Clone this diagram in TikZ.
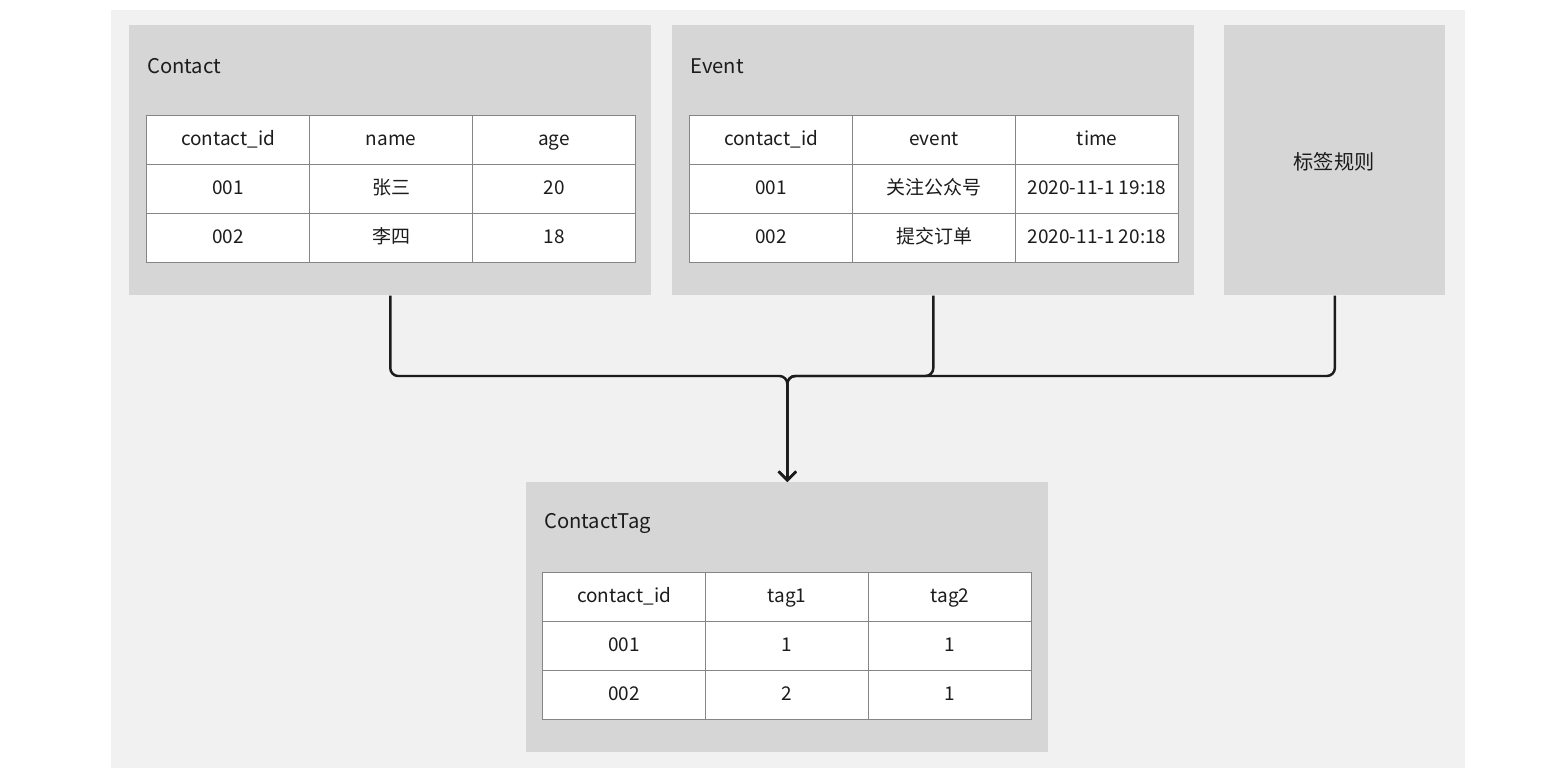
\documentclass[tikz,border=0pt]{standalone}
\usepackage{fontspec}
\setmainfont{Noto Sans CJK SC}
\usetikzlibrary{positioning,calc,matrix,arrows.meta}

\definecolor{bggray}{HTML}{F1F1F1}
\definecolor{panelgray}{HTML}{D6D6D6}
\definecolor{cellline}{HTML}{858585}
\definecolor{inkdark}{HTML}{1C1C1C}

\begin{document}
\begin{tikzpicture}[
  x=0.02cm, y=-0.02cm,
  panel/.style={
    rectangle, fill=panelgray, anchor=north west,
    minimum width=10.44cm, minimum height=5.4cm, inner sep=0pt
  },
  title/.style={
    anchor=west, inner sep=0pt, font=\fontsize{11.5}{14}\selectfont, text=inkdark
  },
  cell/.style={
    draw=cellline, fill=white, line width=0.8pt, inner sep=0pt,
    minimum width=3.26cm, minimum height=0.98cm,
    text height=8pt, text depth=2.5pt,
    font=\fontsize{10.8}{12}\selectfont, text=inkdark
  },
  table/.style={
    matrix of nodes, anchor=north west, inner sep=0pt, outer sep=0pt,
    column sep=-0.8pt, row sep=-0.8pt, nodes={cell}
  },
  conn/.style={
    draw=inkdark, line width=1.4pt, rounded corners=4.5pt,
    -{Straight Barb[length=5pt,width=10pt]}
  }
]

% canvas
\fill[white] (0,0) rectangle (1566,778);
\fill[bggray] (111,10) rectangle (1465,768);

% source panels
\node[panel] (contact) at (129,25) {};
\node[panel] (event) at (672,25) {};
\node[panel, minimum width=4.42cm] (rule) at (1224,25) {};
\node[font=\fontsize{11.5}{14}\selectfont, text=inkdark] (rulelbl) at (1334,162) {标签规则};

% result panel
\node[panel] (tag) at (526,482) {};

% titles
\node[title] (contactlbl) at ($(contact.north west)+(18,41)$) {Contact};
\node[title] (eventlbl) at ($(event.north west)+(18,41)$) {Event};
\node[title] (taglbl) at ($(tag.north west)+(18,41)$) {ContactTag};

% tables
\matrix (ctab) [table] at (146,115) {
  contact\_id & name & age \\
  001 & 张三 & 20 \\
  002 & 李四 & 18 \\
};
\matrix (etab) [table] at (689,115) {
  contact\_id & event & time \\
  001 & 关注公众号 & 2020-11-1 19:18 \\
  002 & 提交订单 & 2020-11-1 20:18 \\
};
\matrix (ttab) [table] at (542,572) {
  contact\_id & tag1 & tag2 \\
  001 & 1 & 1 \\
  002 & 2 & 1 \\
};

% merge into ContactTag
\coordinate (jn) at (tag.north |- 0,376);
\draw[conn] (contact.south) |- (jn) -- (tag.north);
\draw[conn] (event.south) |- (jn) -- (tag.north);
\draw[conn] (rule.south) |- (jn) -- (tag.north);

\end{tikzpicture}
\end{document}
